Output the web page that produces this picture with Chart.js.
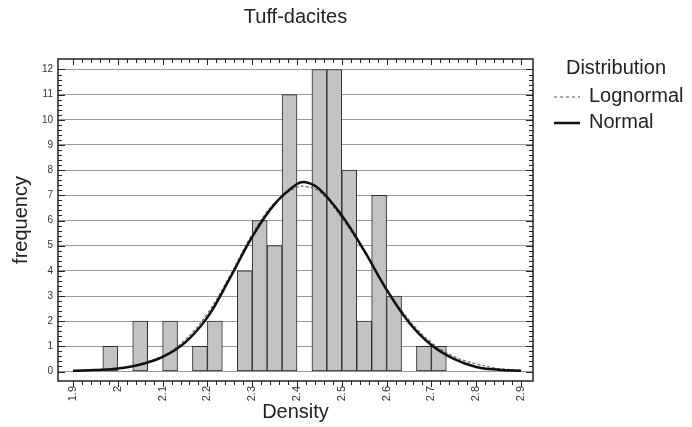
<!DOCTYPE html>
<html>
<head>
<meta charset="utf-8">
<script src="https://cdn.jsdelivr.net/npm/chart.js@4.4.1/dist/chart.umd.min.js"></script>
<style>
    html, body { margin: 0; padding: 0; background: #fff; }
    #wrap { width: 692px; height: 427px; position: relative; }
</style>
</head>
<body>
<div id="wrap"><canvas id="newChartCanvas"></canvas></div>
<script>
// histogram bins (centres of non-empty bins, width 1/30) and counts
var binCenters = [1.9833, 2.05, 2.1167, 2.1833, 2.2167, 2.2833, 2.3167, 2.35, 2.3833,
    2.45, 2.4833, 2.5167, 2.55, 2.5833, 2.6167, 2.6833, 2.7167];
var binCounts = [1, 2, 2, 1, 2, 4, 6, 5, 11, 12, 12, 8, 2, 7, 3, 1, 1];

// fitted curves
var curveX = [1.90, 1.95, 2.00, 2.05, 2.10, 2.15, 2.20, 2.25, 2.30, 2.35, 2.40, 2.42,
    2.45, 2.50, 2.55, 2.60, 2.65, 2.70, 2.75, 2.80, 2.85, 2.90];
var normalY = [0.03, 0.06, 0.12, 0.28, 0.58, 1.15, 2.15, 3.70, 5.35, 6.65, 7.45, 7.52,
    7.25, 6.20, 4.80, 3.25, 1.95, 1.05, 0.50, 0.18, 0.07, 0.03];
var lognormalY = [0.02, 0.05, 0.12, 0.30, 0.62, 1.25, 2.30, 3.80, 5.45, 6.70, 7.32, 7.35,
    7.15, 6.10, 4.75, 3.30, 2.05, 1.15, 0.60, 0.30, 0.12, 0.05];

var xTicks = [1.9, 2.0, 2.1, 2.2, 2.3, 2.4, 2.5, 2.6, 2.7, 2.8, 2.9];
var yTicks = [0, 1, 2, 3, 4, 5, 6, 7, 8, 9, 10, 11, 12];

var legendTitle = 'Distribution';
var legendNames = ['Lognormal', 'Normal'];

function toPoints(xs, ys) {
    var pts = [];
    for (var i = 0; i < xs.length; i++) {
        pts.push({x: xs[i], y: ys[i]});
    }
    return pts;
}

var fontFamily = 'Arial, "Liberation Sans", sans-serif';

var framePlugin = {
    id: 'frame',
    afterDraw: function(chart) {
        var ctx = chart.ctx;
        var a = chart.chartArea;
        var xs = chart.scales.x;
        var ys = chart.scales.y;
        var i, v, p, len;
        ctx.save();
        ctx.strokeStyle = '#222';
        ctx.lineWidth = 1;
        // minor / major ticks along x
        for (i = 0; i <= 50; i++) {
            v = 1.9 + i * 0.02;
            p = Math.round(xs.getPixelForValue(v)) + 0.5;
            len = (i % 5 === 0) ? 6 : 4;
            ctx.beginPath();
            ctx.moveTo(p, a.bottom);
            ctx.lineTo(p, a.bottom + len);
            ctx.moveTo(p, a.top);
            ctx.lineTo(p, a.top + len);
            ctx.stroke();
        }
        // ticks along y
        for (i = 0; i <= 60; i++) {
            v = i * 0.2;
            p = Math.round(ys.getPixelForValue(v)) + 0.5;
            len = (i % 5 === 0) ? 7 : 4;
            ctx.beginPath();
            ctx.moveTo(a.left, p);
            ctx.lineTo(a.left + len, p);
            ctx.moveTo(a.right, p);
            ctx.lineTo(a.right - len, p);
            ctx.stroke();
        }
        ctx.lineWidth = 1.5;
        ctx.strokeRect(a.left, a.top, a.right - a.left, a.bottom - a.top);

        // legend
        ctx.fillStyle = '#222';
        ctx.font = '20px ' + fontFamily;
        ctx.textBaseline = 'middle';
        ctx.textAlign = 'center';
        ctx.fillText(legendTitle, 616, 68);
        ctx.textAlign = 'left';
        ctx.fillText(legendNames[0], 589, 96);
        ctx.fillText(legendNames[1], 589, 122);
        ctx.strokeStyle = '#555';
        ctx.lineWidth = 1.2;
        ctx.setLineDash([3, 3]);
        ctx.beginPath();
        ctx.moveTo(554, 97);
        ctx.lineTo(580, 97);
        ctx.stroke();
        ctx.setLineDash([]);
        ctx.strokeStyle = '#111';
        ctx.lineWidth = 2.5;
        ctx.beginPath();
        ctx.moveTo(554, 123);
        ctx.lineTo(580, 123);
        ctx.stroke();
        ctx.restore();
    }
};

var ctx = document.getElementById('newChartCanvas');
var myChart = new Chart(ctx, {
    type: 'bar',
    data: {
        datasets: [{
            type: 'line',
            label: legendNames[1],
            data: toPoints(curveX, normalY),
            borderColor: '#111',
            borderWidth: 2.5,
            pointRadius: 0,
            tension: 0.4,
            fill: false,
            order: 1
        }, {
            type: 'line',
            label: legendNames[0],
            data: toPoints(curveX, lognormalY),
            borderColor: '#666',
            borderWidth: 1.2,
            borderDash: [3, 2],
            pointRadius: 0,
            tension: 0.4,
            fill: false,
            order: 2
        }, {
            type: 'bar',
            label: 'frequency',
            data: toPoints(binCenters, binCounts),
            backgroundColor: '#c3c3c3',
            borderColor: '#2a2a2a',
            borderWidth: 1,
            borderSkipped: false,
            barPercentage: 1,
            categoryPercentage: 1,
            order: 3
        }]
    },
    options: {
        responsive: true,
        maintainAspectRatio: false,
        animation: false,
        layout: { padding: { left: 0, right: 159, top: 0, bottom: 0 } },
        plugins: {
            legend: { display: false },
            tooltip: { enabled: false },
            title: {
                display: true,
                text: 'Tuff-dacites',
                fullSize: false,
                color: '#222',
                font: { family: fontFamily, size: 20, weight: 'normal' },
                padding: { top: 5, bottom: 30 }
            }
        },
        scales: {
            x: {
                type: 'linear',
                offset: false,
                min: 1.8665,
                max: 2.9268,
                afterBuildTicks: function(scale) {
                    scale.ticks = xTicks.map(function(v) { return {value: v}; });
                },
                afterFit: function(scale) {
                    scale.height = 46;
                },
                grid: { display: false, drawTicks: false },
                border: { display: false },
                ticks: {
                    autoSkip: false,
                    minRotation: 90,
                    maxRotation: 90,
                    padding: 5,
                    color: '#333',
                    font: { family: fontFamily, size: 11 },
                    callback: function(v) { return String(Math.round(v * 10) / 10); }
                },
                title: {
                    display: true,
                    text: 'Density',
                    color: '#222',
                    font: { family: fontFamily, size: 20 },
                    padding: { top: 0, bottom: 3 }
                }
            },
            y: {
                min: -0.377,
                max: 12.417,
                afterBuildTicks: function(scale) {
                    scale.ticks = yTicks.map(function(v) { return {value: v}; });
                },
                afterFit: function(scale) {
                    scale.width = 58;
                },
                grid: { color: '#9a9a9a', lineWidth: 1, drawTicks: false },
                border: { display: false },
                ticks: {
                    padding: 5,
                    color: '#333',
                    font: { family: fontFamily, size: 10 }
                },
                title: {
                    display: true,
                    text: 'frequency',
                    color: '#222',
                    font: { family: fontFamily, size: 20 },
                    padding: { top: 9, bottom: 0 }
                }
            }
        }
    },
    plugins: [framePlugin]
});
</script>
</body>
</html>
